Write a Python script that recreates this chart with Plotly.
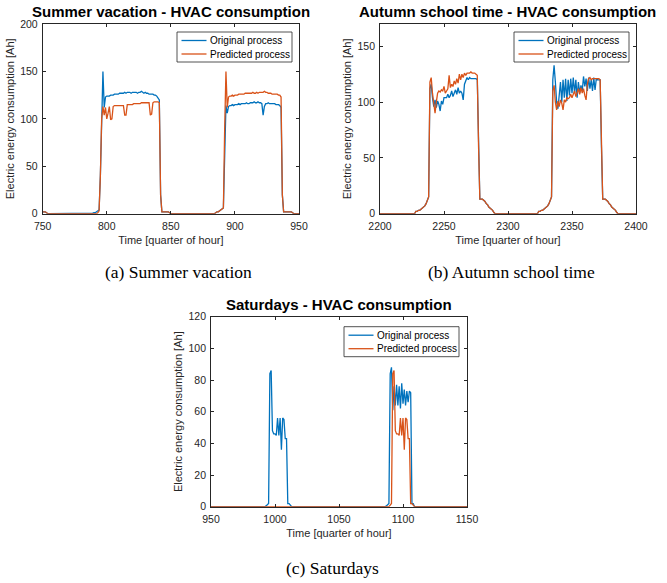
import plotly.graph_objects as go

# ---------------- data ----------------
# (a) Summer vacation, x = 750 .. 950
summer_x = list(range(750, 951))
summer_original = (
    [2, 2, 2, 1] + [0] * 35
    + [0.5, 1, 1, 2, 3, 4, 40, 110, 150]
    + [112, 123, 124, 124, 124, 125, 125, 125, 126, 126,
       126, 126, 127, 127, 127, 127, 128, 127, 128, 128,
       128, 127, 128, 128, 128, 128, 127, 128, 128, 129,
       128, 127, 128, 127, 127, 126, 126, 126, 126, 125,
       125, 124, 122, 120]
    + [20, 2, 2, 2, 2, 2, 2, 1] + [0] * 35
    + [1, 2, 2, 3, 4, 5, 6, 60, 114]
    + [106, 113, 114, 114, 115, 114, 115, 115, 115, 116,
       115, 116, 116, 116, 116, 117, 116, 116, 117, 117,
       117, 118, 117, 117, 118, 117, 117, 116, 104, 113,
       116, 116, 117, 116, 116, 116, 116, 116, 115, 115,
       115, 114, 112]
    + [20, 2, 2, 2, 2, 2, 2, 2, 1] + [0] * 5
)
summer_predicted = (
    [2, 2, 2, 1] + [0] * 39
    + [1, 3, 40, 100, 113]
    + [104, 112, 100, 106, 113, 99, 100, 113, 114, 114,
       114, 114, 114, 114, 114, 114, 104, 104, 115, 115,
       115, 115, 115, 116, 116, 116, 116, 116, 116, 117,
       117, 117, 117, 117, 117, 117, 104, 105, 117, 118,
       118, 118, 118, 117]
    + [20, 2, 2, 2, 2, 2, 2, 1] + [0] * 35
    + [1, 2, 2, 3, 4, 5, 6, 90, 150]
    + [112, 123, 124, 124, 125, 124, 125, 125, 125, 126,
       126, 126, 126, 126, 127, 127, 127, 127, 127, 127,
       128, 127, 127, 128, 127, 128, 128, 128, 128, 129,
       128, 128, 127, 127, 127, 126, 126, 126, 126, 126,
       125, 125, 123]
    + [20, 2, 2, 2, 2, 2, 2, 2, 1] + [0] * 5
)

# (b) Autumn school time, x = 2200 .. 2400
autumn_x = list(range(2200, 2401))
autumn_ramp_up = [2, 2, 3, 3, 4, 5, 6, 7, 9, 13, 15]
autumn_ramp_down = [60, 13, 13, 13, 12, 11, 9, 8, 6, 5, 4, 3, 1]
autumn_original = (
    [0] * 28 + autumn_ramp_up
    + [112, 116, 104, 96, 102, 95, 101, 98, 92, 101,
       98, 104, 104, 104, 107, 104, 106, 110, 105, 108,
       111, 107, 113, 108, 110, 108, 102, 116, 120, 122,
       120, 122, 121, 121, 121, 121, 121, 120]
    + autumn_ramp_down + [0] * 34 + autumn_ramp_up
    + [120, 133, 118, 100, 94, 104, 118, 100, 120, 104,
       121, 101, 120, 106, 121, 108, 122, 108, 120, 104,
       118, 108, 115, 110, 123, 114, 121, 110, 122, 112,
       120, 110, 122, 111, 121, 120, 120, 120]
    + autumn_ramp_down + [0] * 15
)
autumn_predicted = (
    [0] * 28 + autumn_ramp_up
    + [118, 122, 108, 99, 90, 100, 108, 110, 109, 111,
       110, 114, 108, 110, 112, 124, 113, 116, 114, 119,
       116, 121, 117, 125, 120, 125, 122, 126, 124, 126,
       126, 126, 127, 126, 126, 126, 125, 124]
    + autumn_ramp_down + [0] * 34 + autumn_ramp_up
    + [110, 115, 100, 93, 101, 96, 102, 99, 93, 102,
       100, 104, 103, 104, 107, 104, 107, 110, 105, 108,
       112, 107, 113, 108, 112, 106, 102, 116, 121, 122,
       120, 121, 121, 121, 121, 121, 121, 120]
    + autumn_ramp_down + [0] * 15
)

# (c) Saturdays, x = 950 .. 1150
saturday_x = list(range(950, 1151))
saturday_original = (
    [0] * 43
    + [0.5, 1, 2, 84, 86, 48, 46, 46, 45, 56, 45, 56, 36, 56, 55, 43, 43, 2, 2, 1, 0]
    + [0] * 73
    + [0.5, 1, 2, 84, 88, 61, 76, 64, 77, 64, 76, 62, 78, 65, 74, 64, 73, 66, 73, 72, 2, 2, 0]
    + [0] * 41
)
saturday_predicted = (
    [0] * 140
    + [1, 2, 84, 86, 48, 46, 46, 45, 56, 45, 56, 36, 56, 55, 43, 43, 2, 2, 1, 0]
    + [0] * 41
)

titles = ["Summer vacation - HVAC consumption",
          "Autumn school time - HVAC consumption",
          "Saturdays - HVAC consumption"]
captions = ["(a) Summer vacation", "(b) Autumn school time", "(c) Saturdays"]
series_names = ["Original process", "Predicted process"]

# ---------------- figure ----------------
W, H = 667, 583
BLUE, ORANGE = "#0072BD", "#D95319"
COLORS = [BLUE, ORANGE]
AX = "#262626"
FONT = "Liberation Sans, Arial, Helvetica, sans-serif"

panels = [
    dict(x=summer_x, o=summer_original, p=summer_predicted, xr=[750, 950], yr=[0, 200],
         xt=[750, 800, 850, 900, 950], yt=[0, 50, 100, 150, 200],
         px=(42.7, 299), py=(24, 213.7), leg=(292, 32), cap=(178, 272), title_y=11.5),
    dict(x=autumn_x, o=autumn_original, p=autumn_predicted, xr=[2200, 2400], yr=[0, 170],
         xt=[2200, 2250, 2300, 2350, 2400], yt=[0, 50, 100, 150],
         px=(380, 636), py=(24, 213.7), leg=(629, 32), cap=(511, 272), title_y=11.5),
    dict(x=saturday_x, o=saturday_original, p=saturday_predicted, xr=[950, 1150], yr=[0, 120],
         xt=[950, 1000, 1050, 1100, 1150], yt=[0, 20, 40, 60, 80, 100, 120],
         px=(211, 467), py=(316.7, 506.7), leg=(459, 326.7), cap=(332, 568), title_y=304),
]

LEG_W, LEG_H = 115, 30
fig = go.Figure()
annotations, shapes = [], []
layout = dict(width=W, height=H, autosize=False, margin=dict(l=0, r=0, t=0, b=0),
              paper_bgcolor="white", plot_bgcolor="white", showlegend=False,
              font=dict(family=FONT, color=AX, size=10.5))


def px2x(v):
    return v / W


def px2y(v):
    return 1 - v / H


for i, pn in enumerate(panels):
    n = "" if i == 0 else str(i + 1)
    for vals, name, col in [(pn["o"], series_names[0], BLUE), (pn["p"], series_names[1], ORANGE)]:
        fig.add_trace(go.Scatter(x=pn["x"], y=vals, mode="lines", name=name,
                                 line=dict(color=col, width=1.3),
                                 xaxis="x" + n, yaxis="y" + n))
    x0, x1 = px2x(pn["px"][0]), px2x(pn["px"][1])
    y0, y1 = px2y(pn["py"][1]), px2y(pn["py"][0])
    common = dict(showgrid=False, zeroline=False, showline=True, linecolor=AX, linewidth=0.8,
                  mirror="allticks", ticks="inside", ticklen=3, tickcolor=AX, tickwidth=0.8,
                  tickfont=dict(family=FONT, size=10.5, color=AX), automargin=False)
    layout["xaxis" + n] = dict(common, domain=[x0, x1], range=pn["xr"], tickvals=pn["xt"],
                               anchor="y" + n, ticklabelstandoff=3,
                               title=dict(text="Time [quarter of hour]", standoff=5,
                                          font=dict(family=FONT, size=11, color=AX)))
    layout["yaxis" + n] = dict(common, domain=[y0, y1], range=pn["yr"], tickvals=pn["yt"],
                               anchor="x" + n, ticklabelstandoff=2,
                               title=dict(text="Electric energy consumption [Ah]", standoff=3,
                                          font=dict(family=FONT, size=11, color=AX)))
    # legend box (MATLAB style, compact)
    R, T = pn["leg"]
    L, B = R - LEG_W, T + LEG_H
    shapes.append(dict(type="rect", xref="paper", yref="paper",
                       x0=px2x(L), x1=px2x(R), y0=px2y(B), y1=px2y(T),
                       line=dict(color=AX, width=0.8), fillcolor="white", layer="above"))
    for k, (name, col) in enumerate(zip(series_names, COLORS)):
        ry = T + 8.5 + k * 13.5
        shapes.append(dict(type="line", xref="paper", yref="paper",
                           x0=px2x(L + 4.5), x1=px2x(L + 29.5), y0=px2y(ry), y1=px2y(ry),
                           line=dict(color=col, width=1.3), layer="above"))
        annotations.append(dict(text=name, x=px2x(L + 31), y=px2y(ry), xref="paper",
                                yref="paper", xanchor="left", yanchor="middle",
                                showarrow=False,
                                font=dict(family=FONT, size=10, color="black")))
    annotations.append(dict(text="<b>" + titles[i] + "</b>", x=(x0 + x1) / 2,
                            y=px2y(pn["title_y"]), xref="paper", yref="paper",
                            xanchor="center", yanchor="middle", showarrow=False,
                            font=dict(family=FONT, size=15, color="black")))
    annotations.append(dict(text=captions[i], x=px2x(pn["cap"][0]), y=px2y(pn["cap"][1]),
                            xref="paper", yref="paper", xanchor="center", yanchor="middle",
                            showarrow=False,
                            font=dict(family="Liberation Serif, Times New Roman, serif",
                                      size=17.5, color="black")))

layout["annotations"] = annotations
layout["shapes"] = shapes
fig.update_layout(**layout)
fig.write_html("out.html")
